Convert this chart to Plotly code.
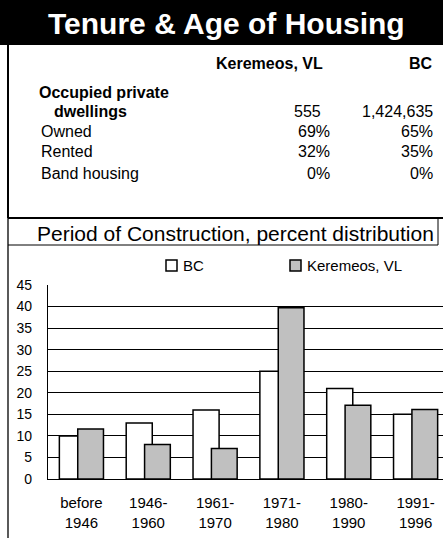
import plotly.graph_objects as go

# ---------------- data ----------------
periods = ["before<br>1946", "1946-<br>1960", "1961-<br>1970",
           "1971-<br>1980", "1980-<br>1990", "1991-<br>1996"]
bc_pct = [10, 13, 16, 25, 21, 15]
keremeos_pct = [11.6, 8, 7.1, 39.7, 17.1, 16.1]

series_names = ["BC", "Keremeos, VL"]
series_colors = ["white", "#C0C0C0"]

table_cols = ["Keremeos, VL", "BC"]
dwellings = ["555", "1,424,635"]
tenure_rows = ["Owned", "Rented", "Band housing"]
tenure_keremeos = ["69%", "32%", "0%"]
tenure_bc = ["65%", "35%", "0%"]

title_text = "Tenure & Age of Housing"
subtitle_text = "Period of Construction, percent distribution"

# ---------------- layout helpers ----------------
W, H = 443, 538
PL, PR, PT, PB = 48, 443, 285, 479  # plot area in pixels
FONT = "Liberation Sans, Arial, sans-serif"


def px(x):
    return (x - PL) / (PR - PL)


def py(y):
    return (PB - y) / (PB - PT)


fig = go.Figure()
fig.add_trace(go.Bar(
    name=series_names[0], x=periods, y=bc_pct,
    marker=dict(color=series_colors[0], line=dict(color="black", width=1.5)),
    width=0.39, offset=-0.33,
))
fig.add_trace(go.Bar(
    name=series_names[1], x=periods, y=keremeos_pct,
    marker=dict(color=series_colors[1], line=dict(color="black", width=1.5)),
    width=0.385, offset=-0.055,
))

annotations = []
shapes = []

# title band
shapes.append(dict(type="rect", xref="paper", yref="paper",
                   x0=px(0), x1=px(W), y0=py(0), y1=py(45),
                   fillcolor="black", line=dict(width=0), layer="below"))
annotations.append(dict(text=f"<b>{title_text}</b>", xref="paper", yref="paper",
                        x=px(226), y=py(23), showarrow=False,
                        xanchor="center", yanchor="middle",
                        font=dict(family=FONT, size=30, color="white")))

# frame lines
shapes.append(dict(type="line", xref="paper", yref="paper",
                   x0=px(8), x1=px(8), y0=py(45), y1=py(218),
                   line=dict(color="black", width=2)))
shapes.append(dict(type="line", xref="paper", yref="paper",
                   x0=px(8), x1=px(8), y0=py(218), y1=py(H + 5),
                   line=dict(color="black", width=1.3)))
shapes.append(dict(type="line", xref="paper", yref="paper",
                   x0=px(8), x1=px(W), y0=py(218), y1=py(218),
                   line=dict(color="black", width=2)))
shapes.append(dict(type="line", xref="paper", yref="paper",
                   x0=px(8), x1=px(438), y0=py(245), y1=py(245),
                   line=dict(color="black", width=1)))
shapes.append(dict(type="line", xref="paper", yref="paper",
                   x0=px(438), x1=px(438), y0=py(218), y1=py(245),
                   line=dict(color="black", width=1)))

TS = 16
col_right = [325, 435]
# header
for c, xr in zip(table_cols, col_right):
    annotations.append(dict(text=f"<b>{c}</b>", xref="paper", yref="paper",
                            x=px(xr), y=py(63), showarrow=False,
                            xanchor="right", yanchor="middle",
                            font=dict(family=FONT, size=TS, color="black")))
annotations.append(dict(text="<b>Occupied private</b>", xref="paper", yref="paper",
                        x=px(37), y=py(92), showarrow=False,
                        xanchor="left", yanchor="middle",
                        font=dict(family=FONT, size=TS, color="black")))
annotations.append(dict(text="<b>dwellings</b>", xref="paper", yref="paper",
                        x=px(52), y=py(111), showarrow=False,
                        xanchor="left", yanchor="middle",
                        font=dict(family=FONT, size=TS, color="black")))
for v, xr in zip(dwellings, [323, 435]):
    annotations.append(dict(text=v, xref="paper", yref="paper",
                            x=px(xr), y=py(111), showarrow=False,
                            xanchor="right", yanchor="middle",
                            font=dict(family=FONT, size=TS, color="black")))
row_y = [131, 151, 173]
for lab, kv, bv, yy in zip(tenure_rows, tenure_keremeos, tenure_bc, row_y):
    annotations.append(dict(text=lab, xref="paper", yref="paper",
                            x=px(39), y=py(yy), showarrow=False,
                            xanchor="left", yanchor="middle",
                            font=dict(family=FONT, size=TS, color="black")))
    annotations.append(dict(text=kv, xref="paper", yref="paper",
                            x=px(332), y=py(yy), showarrow=False,
                            xanchor="right", yanchor="middle",
                            font=dict(family=FONT, size=TS, color="black")))
    annotations.append(dict(text=bv, xref="paper", yref="paper",
                            x=px(435), y=py(yy), showarrow=False,
                            xanchor="right", yanchor="middle",
                            font=dict(family=FONT, size=TS, color="black")))

# subtitle
annotations.append(dict(text=subtitle_text, xref="paper", yref="paper",
                        x=px(235), y=py(233), showarrow=False,
                        xanchor="center", yanchor="middle",
                        font=dict(family=FONT, size=21, color="black")))

# legend (drawn manually for tight symbol/text spacing)
legend_sq_left = [166, 290]
for name, color, x0 in zip(series_names, series_colors, legend_sq_left):
    shapes.append(dict(type="rect", xref="paper", yref="paper",
                       x0=px(x0), x1=px(x0 + 11), y0=py(260), y1=py(271),
                       fillcolor=color, line=dict(color="black", width=1.5)))
    annotations.append(dict(text=name, xref="paper", yref="paper",
                            x=px(x0 + 15), y=py(265.5), showarrow=False,
                            xanchor="left", yanchor="middle",
                            font=dict(family=FONT, size=15, color="black")))

fig.update_layout(
    width=W, height=H, autosize=False,
    margin=dict(l=PL, r=W - PR, t=PT, b=H - PB, pad=0),
    paper_bgcolor="white", plot_bgcolor="white",
    barmode="overlay",
    font=dict(family=FONT, size=14, color="black"),
    showlegend=False,
    annotations=annotations,
    shapes=shapes,
)
fig.update_xaxes(type="category", range=[-0.5, 5.41], showgrid=False,
                 showline=True, linecolor="black", linewidth=1.2,
                 ticks="", tickfont=dict(family=FONT, size=15, color="black"),
                 ticklabelstandoff=10, fixedrange=True)
fig.update_yaxes(range=[0, 45], tickvals=list(range(0, 46, 5)),
                 showgrid=True, gridcolor="black", gridwidth=1,
                 zeroline=False, showline=True, linecolor="black", linewidth=1.2,
                 ticks="", tickfont=dict(family=FONT, size=14, color="black"),
                 ticklabelstandoff=12, fixedrange=True)

fig.write_html(
    "out.html",
    config={"displayModeBar": False},
    post_script="document.body.style.margin='0px';document.body.style.overflow='hidden';",
)
